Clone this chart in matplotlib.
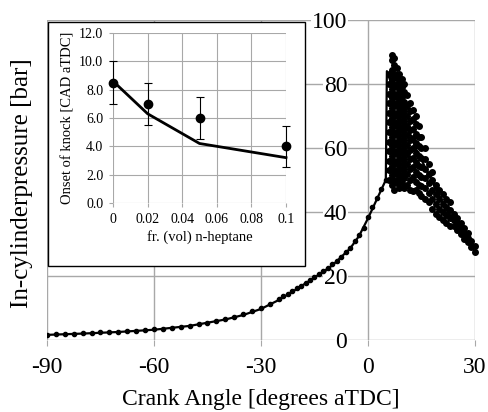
import matplotlib
matplotlib.use("Agg")
import matplotlib.pyplot as plt
from matplotlib.patches import Rectangle

plt.rcParams['font.family'] = ['Liberation Serif', 'DejaVu Serif']
plt.rcParams['axes.unicode_minus'] = False

# simulated pressure trace [crank angle, bar]
line_ca = [-90, -80, -70, -60, -50, -40, -35, -30, -25, -20, -15, -10, -5, -2.5,
           0, 2.5, 5, 5.3, 9, 13.6, 17, 22, 26, 30]
line_p = [1.6, 2.0, 2.5, 3.2, 4.4, 6.4, 7.8, 9.7, 12.5, 15.9, 19.5, 23.3, 28.6, 32.5,
          38.0, 44.0, 50.0, 84.0, 72.5, 59.4, 51.8, 40.6, 34.7, 28.7]

# measured pressure before knock
meas_ca = [-90, -87.5, -85, -82.5, -80, -77.5, -75, -72.5, -70, -67.5, -65, -62.5,
           -60, -57.5, -55, -52.5, -50, -47.5, -45, -42.5, -40, -37.5, -35, -32.5,
           -30, -27.5, -25, -23.75, -22.5, -21.25, -20, -18.75, -17.5, -16.25, -15,
           -13.75, -12.5, -11.25, -10, -8.75, -7.5, -6.25, -5, -3.75, -2.5, -1.25,
           0, 1.25, 2.5, 3.75, 5]
meas_p = [1.7, 1.8, 1.9, 2.0, 2.1, 2.2, 2.35, 2.45, 2.6, 2.75, 2.9, 3.1,
          3.3, 3.55, 3.8, 4.15, 4.5, 4.95, 5.4, 6.0, 6.6, 7.3, 8.0, 9.0,
          10.0, 11.4, 12.8, 13.6, 14.3, 15.2, 16.2, 17.0, 17.9, 18.8, 19.7,
          20.6, 21.6, 22.6, 23.6, 24.8, 26.0, 27.4, 28.9, 30.8, 32.8, 35.0,
          38.5, 41.5, 44.5, 47.3, 50.0]

# measured pressure during knock (several cycles), one list per crank angle
knock_ca = [6, 6.7, 7.4, 8.1, 8.8, 9.5, 10.2, 11, 11.8, 12.6, 13.4, 14.2, 15, 16, 17,
            18, 19, 20, 21, 22, 23, 24, 25, 26, 27, 28, 29, 30]
knock_p = [
    [50, 53, 56, 59, 62, 65, 68, 71, 74, 77, 80, 83],
    [48.5, 51.5, 54.5, 57.5, 60.5, 63.5, 66.5, 69.5, 72.5, 75.5, 78.5, 81.5, 84.5, 87.5, 89],
    [47, 50, 53, 56, 59, 62, 65, 68, 71, 74, 77, 80, 83, 86, 88],
    [49, 52, 55, 58, 61, 64, 67, 70, 73, 76, 79, 82, 85],
    [47.5, 50.5, 53.5, 56.5, 59.5, 62.5, 65.5, 68.5, 71.5, 74.5, 77.5, 80.5, 83],
    [49, 52, 55, 58, 61, 64, 67, 70, 73, 76, 79, 81.5],
    [47.5, 50.5, 53.5, 56.5, 59.5, 62.5, 65.5, 68.5, 71.5, 74.5, 77.5, 80],
    [48.5, 52, 55, 58, 61, 64, 67, 70, 73, 76.5],
    [47, 50, 53.5, 56.5, 59.5, 62.5, 65.5, 68.5, 71.5, 74],
    [46.5, 51, 54, 57, 60, 63, 66, 69, 72],
    [47, 49.5, 52.5, 55.5, 58.5, 61.5, 64.5, 67.5, 70],
    [46, 48.5, 51.5, 54.5, 57.5, 60.5, 63.5, 67],
    [45, 48, 51, 54, 57, 60, 63.5],
    [44, 47.5, 50.5, 53.5, 56.5, 60],
    [43, 46, 49, 52, 55],
    [41, 44, 47, 50, 52.5],
    [39.5, 42.5, 45.5, 48.5],
    [38.5, 41, 44, 47],
    [37.5, 40, 42.5, 45.5],
    [36.5, 39, 41.5, 44],
    [35.5, 38, 40.5, 43],
    [35.5, 37.5, 39.5],
    [34.5, 36.5, 38],
    [33, 35, 36.5],
    [31.5, 33.5, 35],
    [30.5, 32, 33.5],
    [29, 31],
    [27.5, 29.5],
]

# inset: onset of knock vs n-heptane fraction
frac = [0, 0.02, 0.05, 0.1]
onset_meas = [8.5, 7.0, 6.0, 4.0]
onset_err = [1.5, 1.5, 1.45, 1.45]
onset_model = [8.6, 6.3, 4.2, 3.2]

fig = plt.figure(figsize=(4.88, 4.12), dpi=100)
ax = fig.add_axes([0.0963, 0.1748, 0.877, 0.7767])

grid_c = '#a8a8a8'
ax.plot(line_ca, line_p, color='black', lw=1.6, zorder=3)
ax.plot(meas_ca, meas_p, 'o', color='black', ms=3, zorder=4)
kx, ky = [], []
for c, ps in zip(knock_ca, knock_p):
    for p in ps:
        kx.append(c)
        ky.append(p)
ax.plot(kx, ky, 'o', color='black', ms=4.0, zorder=4, clip_on=False)

ax.set_xlim(-90, 30)
ax.set_ylim(0, 100)
ax.set_xticks([-90, -60, -30, 0, 30])
ax.set_yticks([0, 20, 40, 60, 80, 100])
ax.grid(True, color=grid_c, lw=1.0, zorder=0)
ax.set_axisbelow(True)
for s in ax.spines.values():
    s.set_visible(False)
ax.spines['left'].set_position(('data', 0))
ax.tick_params(axis='x', length=4, color=grid_c, labelsize=17, pad=8)
ax.tick_params(axis='y', length=0, labelsize=17, pad=15)
for t in ax.get_yticklabels():
    t.set_bbox(dict(facecolor='white', edgecolor='none', pad=0.5))

fig.text(0.535, 0.016, 'Crank Angle [degrees aTDC]', ha='center', va='baseline', fontsize=17)
fig.text(0.045, 0.555, 'In-cylinderpressure [bar]', ha='center', va='center',
         rotation=90, fontsize=18)

# inset frame and axes
fig.patches.append(Rectangle((0.0984, 0.3544), 0.5266, 0.5922, transform=fig.transFigure,
                             facecolor='white', edgecolor='black', lw=1.0, zorder=1))
ins = fig.add_axes([0.2316, 0.5073, 0.3545, 0.4126], zorder=2)
ins.set_facecolor('none')
ins.plot(frac, onset_model, color='black', lw=2.0, clip_on=False)
ins.errorbar(frac, onset_meas, yerr=onset_err, fmt='o', color='black', ms=6,
             elinewidth=0.8, capsize=3, capthick=0.8, clip_on=False)
ins.set_xlim(0, 0.1)
ins.set_ylim(0, 12)
ins.set_xticks([0, 0.02, 0.04, 0.06, 0.08, 0.1])
ins.set_xticklabels(['0', '0.02', '0.04', '0.06', '0.08', '0.1'])
ins.set_yticks([0, 2, 4, 6, 8, 10, 12])
ins.set_yticklabels(['0.0', '2.0', '4.0', '6.0', '8.0', '10.0', '12.0'])
ins.grid(True, color=grid_c, lw=0.8)
ins.set_axisbelow(True)
for s in ins.spines.values():
    s.set_visible(False)
ins.tick_params(length=3, color=grid_c, labelsize=10, pad=4)
ins.set_xlabel('fr. (vol) n-heptane', fontsize=10.5, labelpad=3)
ins.set_ylabel('Onset of knock [CAD aTDC]', fontsize=10.5, labelpad=3)

fig.savefig('out.png', dpi=100)
